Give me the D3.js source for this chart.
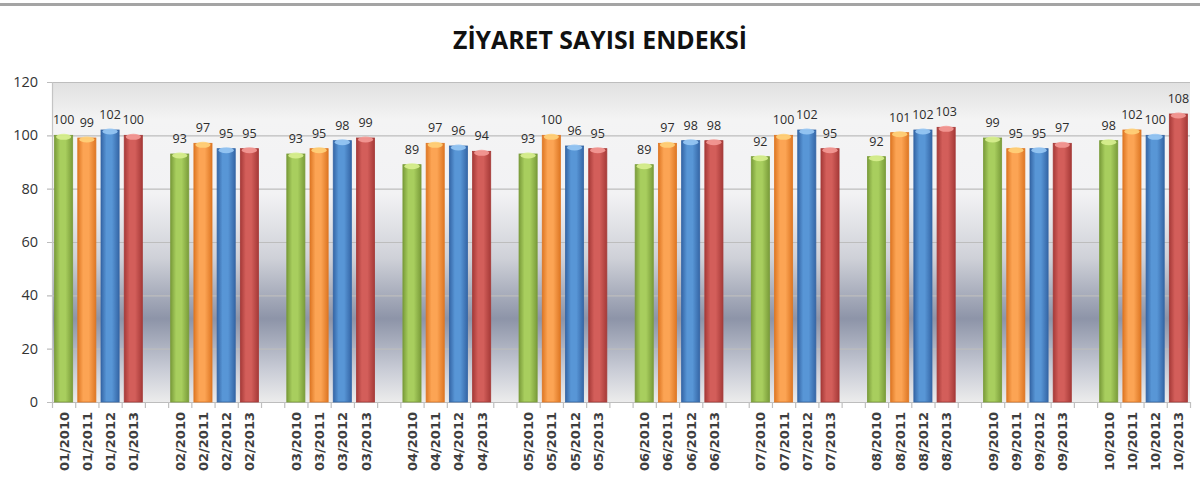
<!DOCTYPE html>
<html>
<head>
    <meta charset="utf-8">
    <title>Ziyaret Sayisi Endeksi</title>
    <script src="https://d3js.org/d3.v7.min.js"></script>
    <style>
        body { margin: 0; background: #fff; }
        svg { display: block; }
    </style>
</head>
<body>
    <svg id="chart"></svg>
    <script>
        const width = 1200;
        const height = 483;

        // data
        const months = ["01", "02", "03", "04", "05", "06", "07", "08", "09", "10"];
        const years = ["2010", "2011", "2012", "2013"];
        const v2010 = [100, 93, 93, 89, 93, 89, 92, 92, 99, 98];
        const v2011 = [99, 97, 95, 97, 100, 97, 100, 101, 95, 102];
        const v2012 = [102, 95, 98, 96, 96, 98, 102, 102, 95, 100];
        const v2013 = [100, 95, 99, 94, 95, 98, 95, 103, 97, 108];
        const yTicks = [0, 20, 40, 60, 80, 100, 120];

        const seriesValues = [v2010, v2011, v2012, v2013];
        const colors = [
            { edge: "#7a9c3a", mid: "#a8ce5e", cap: "#d8f090" },
            { edge: "#de7724", mid: "#fca454", cap: "#ffd27a" },
            { edge: "#3566a6", mid: "#5896d6", cap: "#98c8f4" },
            { edge: "#a63a38", mid: "#d35e5a", cap: "#f49a96" }
        ];

        const margin = { left: 52, right: 10, top: 82, bottom: 81 };
        const plotRight = width - margin.right;
        const plotBottom = height - margin.bottom;

        // slots: 4 bars per month and one empty slot between months
        const slots = [];
        const bars = [];
        months.forEach((m, i) => {
            years.forEach((yr, j) => {
                const key = m + "/" + yr;
                slots.push(key);
                bars.push({ key: key, value: seriesValues[j][i], s: j });
            });
            if (i < months.length - 1) slots.push("gap" + i);
        });

        const svg = d3.select("#chart")
            .attr("width", width)
            .attr("height", height);

        const defs = svg.append("defs");

        const bg = defs.append("linearGradient")
            .attr("id", "bgGrad")
            .attr("x1", 0).attr("y1", 0).attr("x2", 0).attr("y2", 1);
        [[0, "#e0e0e0"], [0.12, "#f4f4f4"], [0.35, "#f2f2f4"], [0.55, "#cfd1d8"],
         [0.74, "#8d94a8"], [0.9, "#c9ccd6"], [1, "#ececec"]].forEach(s => {
            bg.append("stop").attr("offset", s[0]).attr("stop-color", s[1]);
        });

        colors.forEach((c, i) => {
            const g = defs.append("linearGradient")
                .attr("id", "barGrad" + i)
                .attr("x1", 0).attr("y1", 0).attr("x2", 1).attr("y2", 0);
            g.append("stop").attr("offset", 0).attr("stop-color", c.edge);
            g.append("stop").attr("offset", 0.3).attr("stop-color", c.mid);
            g.append("stop").attr("offset", 0.6).attr("stop-color", c.mid);
            g.append("stop").attr("offset", 1).attr("stop-color", c.edge);
        });

        const x = d3.scaleBand()
            .domain(slots)
            .range([margin.left, plotRight])
            .paddingInner(0)
            .paddingOuter(0);

        const y = d3.scaleLinear()
            .domain([0, 120])
            .range([plotBottom, margin.top]);

        const barW = x.bandwidth() * 0.78;

        // top frame line
        svg.append("rect")
            .attr("x", 0).attr("y", 3)
            .attr("width", width).attr("height", 3)
            .attr("fill", "#a4a4a4");

        // title
        svg.append("text")
            .attr("x", 600)
            .attr("y", 49)
            .attr("text-anchor", "middle")
            .attr("textLength", 294)
            .attr("lengthAdjust", "spacingAndGlyphs")
            .style("font-family", "'Open Sans', sans-serif")
            .style("font-weight", "bold")
            .style("font-size", "25px")
            .style("fill", "#111")
            .text("ZİYARET SAYISI ENDEKSİ");

        // plot background
        svg.append("rect")
            .attr("x", margin.left)
            .attr("y", margin.top)
            .attr("width", plotRight - margin.left)
            .attr("height", plotBottom - margin.top)
            .attr("fill", "url(#bgGrad)");

        // grid lines
        svg.append("g")
            .selectAll("line")
            .data(yTicks)
            .enter().append("line")
            .attr("x1", margin.left - 5)
            .attr("x2", plotRight)
            .attr("y1", d => y(d) + 0.5)
            .attr("y2", d => y(d) + 0.5)
            .style("stroke", "#bdbdbd")
            .style("stroke-width", 1.2);

        // left axis line
        svg.append("line")
            .attr("x1", margin.left + 0.5).attr("x2", margin.left + 0.5)
            .attr("y1", margin.top).attr("y2", plotBottom)
            .style("stroke", "#c4c4c4")
            .style("stroke-width", 1.2);

        // y labels
        svg.append("g")
            .selectAll("text")
            .data(yTicks)
            .enter().append("text")
            .attr("x", 38)
            .attr("y", d => y(d) + 5)
            .attr("text-anchor", "end")
            .style("font-family", "'Open Sans', sans-serif")
            .style("font-size", "14.5px")
            .style("fill", "#333")
            .text(d => d);

        // x ticks at slot boundaries
        const tickPos = slots.map(s => x(s)).concat([plotRight]);
        svg.append("g")
            .selectAll("line")
            .data(tickPos)
            .enter().append("line")
            .attr("x1", d => d + 0.5).attr("x2", d => d + 0.5)
            .attr("y1", plotBottom).attr("y2", plotBottom + 6)
            .style("stroke", "#c0c0c0")
            .style("stroke-width", 1.2);

        // bars
        const barG = svg.append("g")
            .selectAll("g")
            .data(bars)
            .enter().append("g")
            .attr("transform", d => `translate(${x(d.key) + (x.bandwidth() - barW) / 2},0)`);

        barG.append("rect")
            .attr("x", 0)
            .attr("y", d => y(d.value))
            .attr("width", barW)
            .attr("height", d => y(0) - y(d.value))
            .attr("fill", d => `url(#barGrad${d.s})`)
            .style("stroke", d => colors[d.s].edge)
            .style("stroke-width", 0.8);

        barG.append("ellipse")
            .attr("cx", barW / 2)
            .attr("cy", d => y(d.value) + 1.5)
            .attr("rx", barW / 2 - 1.5)
            .attr("ry", 3)
            .attr("fill", d => colors[d.s].cap)
            .attr("opacity", 0.9);

        // value labels
        barG.append("text")
            .attr("x", barW / 2)
            .attr("y", d => y(d.value) - 11)
            .attr("text-anchor", "middle")
            .style("font-family", "'Open Sans', sans-serif")
            .style("font-size", "12.5px")
            .style("fill", "#2c2c2c")
            .text(d => d.value);

        // x labels, rotated
        svg.append("g")
            .selectAll("text")
            .data(bars)
            .enter().append("text")
            .attr("transform", d => `translate(${x(d.key) + x.bandwidth() / 2 + 5},${plotBottom + 10}) rotate(-90)`)
            .attr("text-anchor", "end")
            .style("font-family", "'DejaVu Sans', sans-serif")
            .style("font-weight", "bold")
            .style("font-size", "13px")
            .style("fill", "#3e3e3e")
            .text(d => d.key);
    </script>
</body>
</html>
